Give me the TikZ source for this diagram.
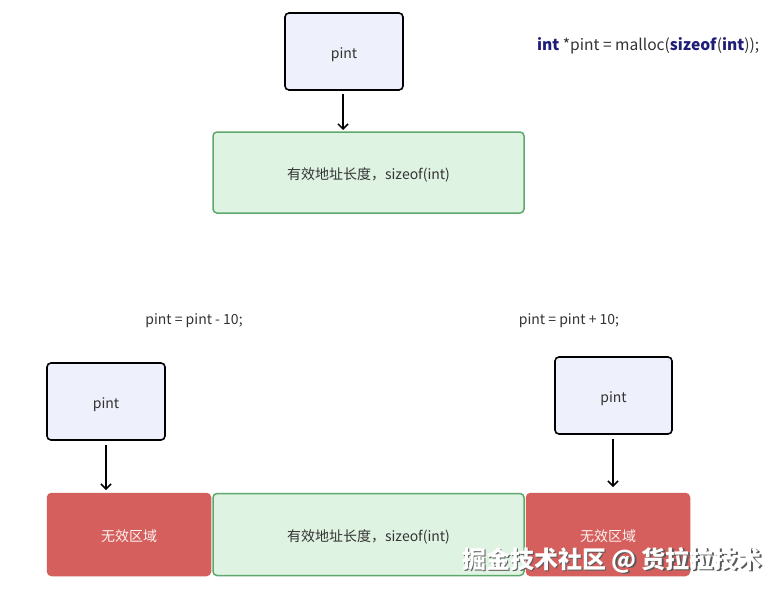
\documentclass[tikz,border=0pt]{standalone}
\usepackage{fontspec}
\setmainfont{Noto Sans CJK SC}
\usetikzlibrary{arrows.meta}
\definecolor{ptrfill}{HTML}{EEF1FB}
\definecolor{okfill}{HTML}{DFF3E2}
\definecolor{okline}{HTML}{5FA86C}
\definecolor{badfill}{HTML}{D45F5C}
\definecolor{kw}{HTML}{1E1E78}
\definecolor{txt}{HTML}{333333}
\tikzset{
  x=1pt,y=-1pt,
  boxtext/.style={inner sep=0pt,text height=14pt,text depth=1pt,font=\fontsize{14}{16}\selectfont},
  ptr/.style={boxtext,draw=black,line width=1.6pt,fill=ptrfill,rounded corners=4pt,text=txt},
  okbox/.style={boxtext,draw=okline,line width=1.5pt,fill=okfill,rounded corners=4pt,text=txt},
  badbox/.style={boxtext,draw=badfill,line width=1.5pt,fill=badfill,rounded corners=4pt,text=white!92!badfill},
  code/.style={text=txt,inner sep=0pt,font=\fontsize{14}{16}\selectfont},
  link/.style={-{Straight Barb[length=5pt,width=10pt]},line width=1.5pt,black},
}
\begin{document}
\begin{tikzpicture}
\useasboundingbox (0,0) rectangle (782,592);
\fill[white] (0,0) rectangle (782,592);
% top
\node[ptr,minimum width=118pt,minimum height=77pt] (p0) at (344,51.5) {pint};
\node[okbox,minimum width=311pt,minimum height=81pt] (g0) at (368.5,172.5) {有效地址长度，sizeof(int)};
\coordinate (g0t) at (343,130);
\draw[link] (p0.south -| g0t) ++(0,3) coordinate (a0) (a0) -- (g0t);
\node[code,anchor=west,font=\fontsize{15.6}{18}\selectfont] (c0) at (537,46) {\textcolor{kw}{\textbf{int}} *pint = malloc(\textcolor{kw}{\textbf{sizeof}}(\textcolor{kw}{\textbf{int}}));};
% labels
\node[code] (c1) at (194,320.5) {pint = pint - 10;};
\node[code] (c2) at (569,320.5) {pint = pint + 10;};
% bottom row
\node[badbox,minimum width=163pt,minimum height=82pt] (r1) at (129,534.5) {无效区域};
\node[okbox,minimum width=311pt,minimum height=82pt] (g1) at (368.5,534.5) {有效地址长度，sizeof(int)};
\node[badbox,minimum width=163pt,minimum height=82pt] (r2) at (608,534.5) {无效区域};
% pointers
\node[ptr,minimum width=118pt,minimum height=77pt] (p1) at (106,401.5) {pint};
\node[ptr,minimum width=117pt,minimum height=77pt] (p2) at (613.5,395.5) {pint};
\coordinate (t1) at (106,490);
\coordinate (t2) at (613,487);
\draw[link] (p1.south -| t1) ++(0,4) coordinate (a1) (a1) -- (t1);
\draw[link] (p2.south -| t2) ++(0,4) coordinate (a2) (a2) -- (t2);
% watermark
\node[text=black!65,font=\fontsize{24}{26}\selectfont\bfseries,inner sep=0pt] (wms) at (613.5,561.5) {掘金技术社区 @ 货拉拉技术};
\node[text=white,font=\fontsize{24}{26}\selectfont\bfseries,inner sep=0pt] (wm) at (612,560) {掘金技术社区 @ 货拉拉技术};
\end{tikzpicture}
\end{document}
